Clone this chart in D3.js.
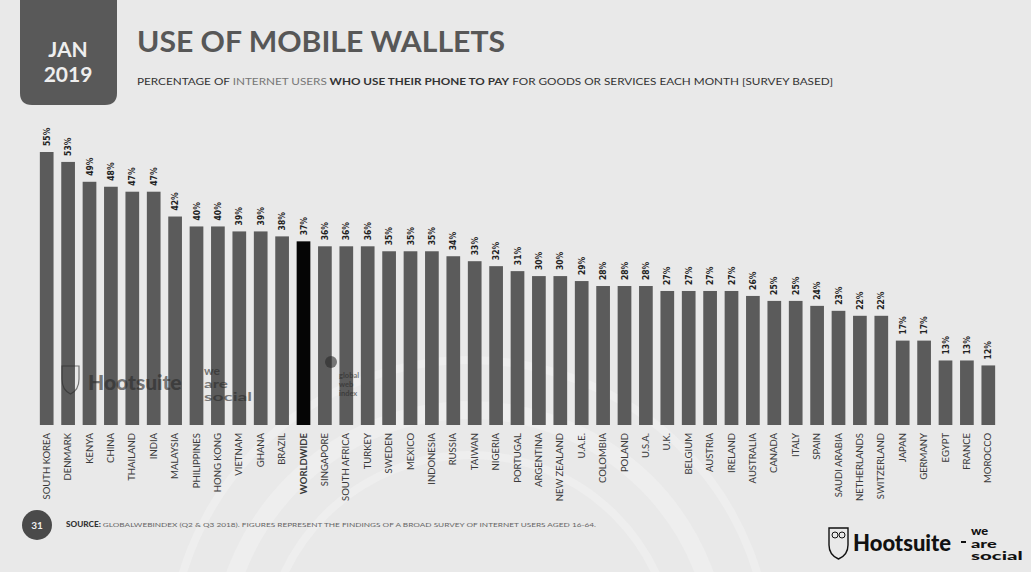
<!DOCTYPE html>
<html>
<head>
<meta charset="utf-8">
<script src="https://cdn.jsdelivr.net/npm/d3@7"></script>
<style>
  body { margin: 0; background: #e9e9e9; }
  svg { display: block; }
</style>
</head>
<body>
<script>
// data (percent of internet users)
var countries = ["SOUTH KOREA", "DENMARK", "KENYA", "CHINA", "THAILAND", "INDIA", "MALAYSIA",
  "PHILIPPINES", "HONG KONG", "VIETNAM", "GHANA", "BRAZIL", "WORLDWIDE", "SINGAPORE",
  "SOUTH AFRICA", "TURKEY", "SWEDEN", "MEXICO", "INDONESIA", "RUSSIA", "TAIWAN", "NIGERIA",
  "PORTUGAL", "ARGENTINA", "NEW ZEALAND", "U.A.E.", "COLOMBIA", "POLAND", "U.S.A.", "U.K.",
  "BELGIUM", "AUSTRIA", "IRELAND", "AUSTRALIA", "CANADA", "ITALY", "SPAIN", "SAUDI ARABIA",
  "NETHERLANDS", "SWITZERLAND", "JAPAN", "GERMANY", "EGYPT", "FRANCE", "MOROCCO"];
var shares = [55, 53, 49, 48, 47, 47, 42, 40, 40, 39, 39, 38, 37, 36, 36, 36, 35, 35, 35, 34,
  33, 32, 31, 30, 30, 29, 28, 28, 28, 27, 27, 27, 27, 26, 25, 25, 24, 23, 22, 22, 17, 17, 13, 13, 12];
var highlight = "WORLDWIDE";
var logoWords = ["we", "are", "social"];
var gwiWords = ["global", "web", "index"];

var width = 1031, height = 572;

var svg = d3.select("body").append("svg")
    .attr("width", width)
    .attr("height", height);

svg.append("rect").attr("width", width).attr("height", height).attr("fill", "#e9e9e9");

// faint seal watermark in the background
var seal = svg.append("g").attr("fill", "none").attr("stroke", "#eeeeee");
[300, 250, 205].forEach(function(r, i) {
  seal.append("circle").attr("cx", 470).attr("cy", 660).attr("r", r)
    .attr("stroke-width", i == 1 ? 18 : 8);
});

// date badge
svg.append("path")
    .attr("d", "M20,0 H117 V93 Q117,105 105,105 H32 Q20,105 20,93 Z")
    .attr("fill", "#595959");
svg.append("text").attr("x", 68).attr("y", 57).attr("text-anchor", "middle")
    .attr("font-family", "Lato").attr("font-weight", 700).attr("font-size", 21)
    .attr("fill", "#eeeeee").text("JAN");
svg.append("text").attr("x", 68).attr("y", 82).attr("text-anchor", "middle")
    .attr("font-family", "Lato").attr("font-weight", 700).attr("font-size", 21)
    .attr("fill", "#eeeeee").text("2019");

// title + subtitle
svg.append("text").attr("x", 137).attr("y", 52)
    .attr("font-family", "Lato").attr("font-weight", 700).attr("font-size", 28)
    .attr("fill", "#575757")
    .attr("textLength", 368).attr("lengthAdjust", "spacingAndGlyphs")
    .text("USE OF MOBILE WALLETS");

var sub = svg.append("text").attr("x", 137).attr("y", 85)
    .attr("font-family", "Lato").attr("font-size", 9).attr("fill", "#333")
    .attr("textLength", 696).attr("lengthAdjust", "spacingAndGlyphs");
sub.append("tspan").text("PERCENTAGE OF ");
sub.append("tspan").attr("fill", "#777").text("INTERNET USERS");
sub.append("tspan").attr("font-weight", 700).text(" WHO USE THEIR PHONE TO PAY");
sub.append("tspan").text(" FOR GOODS OR SERVICES EACH MONTH [SURVEY BASED]");

// scales
var x = d3.scaleBand()
    .domain(countries)
    .range([36, 999])
    .paddingInner(0.36)
    .paddingOuter(0.18);

var y = d3.scaleLinear()
    .domain([0, 55])
    .range([425, 152]);

var rows = countries.map(function(c, i) { return {name: c, value: shares[i]}; });

// bars
svg.append("g").selectAll("rect")
  .data(rows)
  .enter().append("rect")
    .attr("x", function(d) { return x(d.name); })
    .attr("y", function(d) { return y(d.value); })
    .attr("width", x.bandwidth())
    .attr("height", function(d) { return y(0) - y(d.value); })
    .attr("fill", function(d) { return d.name == highlight ? "#050505" : "#5b5b5b"; });

// value labels (rotated)
svg.append("g").selectAll("text")
  .data(rows)
  .enter().append("text")
    .attr("transform", function(d) {
      return "translate(" + (x(d.name) + x.bandwidth() / 2 + 3) + "," + (y(d.value) - 6) + ") rotate(-90)";
    })
    .attr("font-family", "DejaVu Sans Condensed, DejaVu Sans")
    .attr("font-stretch", "condensed")
    .attr("font-weight", 700)
    .attr("font-size", 8.5)
    .attr("fill", "#222")
    .text(function(d) { return d.value + "%"; });

// category axis
var xAxis = svg.append("g")
    .attr("transform", "translate(0," + y(0) + ")")
    .call(d3.axisBottom(x).tickSize(0).tickPadding(0));
xAxis.select(".domain").remove();
xAxis.selectAll("text")
    .attr("transform", "translate(3,8) rotate(-90)")
    .attr("text-anchor", "end")
    .attr("dy", 0)
    .attr("y", 0)
    .attr("font-family", "Lato")
    .attr("font-size", 9.5)
    .attr("fill", "#3a3a3a")
    .attr("font-weight", function(d) { return d == highlight ? 700 : 400; });

// watermark logos over the bars
var wm = svg.append("g").attr("opacity", 0.6).attr("fill", "#2a2a2a");
wm.append("path")
    .attr("d", "M62,366 h17 v13 q0,11 -8.5,15 q-8.5,-4 -8.5,-15 z")
    .attr("fill", "none").attr("stroke", "#2a2a2a").attr("stroke-width", 1.2);
wm.append("text").attr("x", 88).attr("y", 390)
    .attr("font-family", "Lato").attr("font-weight", 900).attr("font-size", 21)
    .text("Hootsuite");
logoWords.forEach(function(w, i) {
  wm.append("text").attr("x", 204).attr("y", 375 + i * 13)
    .attr("font-family", "Lato").attr("font-weight", 700).attr("font-size", 10.5)
    .attr("textLength", w.length * 8).attr("lengthAdjust", "spacingAndGlyphs")
    .text(w);
});
wm.append("circle").attr("cx", 331).attr("cy", 362).attr("r", 6);
gwiWords.forEach(function(w, i) {
  wm.append("text").attr("x", 339).attr("y", 378 + i * 9)
    .attr("font-family", "Lato").attr("font-weight", 700).attr("font-size", 7.5).text(w);
});

// footer
svg.append("circle").attr("cx", 37).attr("cy", 525).attr("r", 15).attr("fill", "#4a4a4a");
svg.append("text").attr("x", 37).attr("y", 529).attr("text-anchor", "middle")
    .attr("font-family", "Lato").attr("font-weight", 700).attr("font-size", 10)
    .attr("fill", "#eee").text("31");

var src = svg.append("text").attr("x", 66).attr("y", 527)
    .attr("font-family", "Lato").attr("font-size", 6.5).attr("fill", "#666")
    .attr("textLength", 530).attr("lengthAdjust", "spacingAndGlyphs");
src.append("tspan").attr("font-weight", 900).attr("fill", "#333").text("SOURCE: ");
src.append("tspan").text("GLOBALWEBINDEX (Q2 & Q3 2018). FIGURES REPRESENT THE FINDINGS OF A BROAD SURVEY OF INTERNET USERS AGED 16-64.");

// hootsuite / we are social logos
var logo = svg.append("g");
logo.append("path")
    .attr("d", "M829,528 h19 v17 q0,10 -9.5,14 q-9.5,-4 -9.5,-14 z")
    .attr("fill", "none").attr("stroke", "#111").attr("stroke-width", 1.4);
logo.append("circle").attr("cx", 835).attr("cy", 535).attr("r", 3).attr("fill", "none").attr("stroke", "#111");
logo.append("circle").attr("cx", 842).attr("cy", 535).attr("r", 3).attr("fill", "none").attr("stroke", "#111");
logo.append("text").attr("x", 853).attr("y", 551)
    .attr("font-family", "Lato").attr("font-weight", 900).attr("font-size", 22)
    .attr("fill", "#111").text("Hootsuite");
logo.append("rect").attr("x", 961).attr("y", 541).attr("width", 5).attr("height", 2).attr("fill", "#111");
logoWords.forEach(function(w, i) {
  logo.append("text").attr("x", 971).attr("y", 535 + i * 12.5)
    .attr("font-family", "Lato").attr("font-weight", 900).attr("font-size", 10.5)
    .attr("textLength", w.length * 8.6).attr("lengthAdjust", "spacingAndGlyphs")
    .attr("fill", "#111").text(w);
});
</script>
</body>
</html>
